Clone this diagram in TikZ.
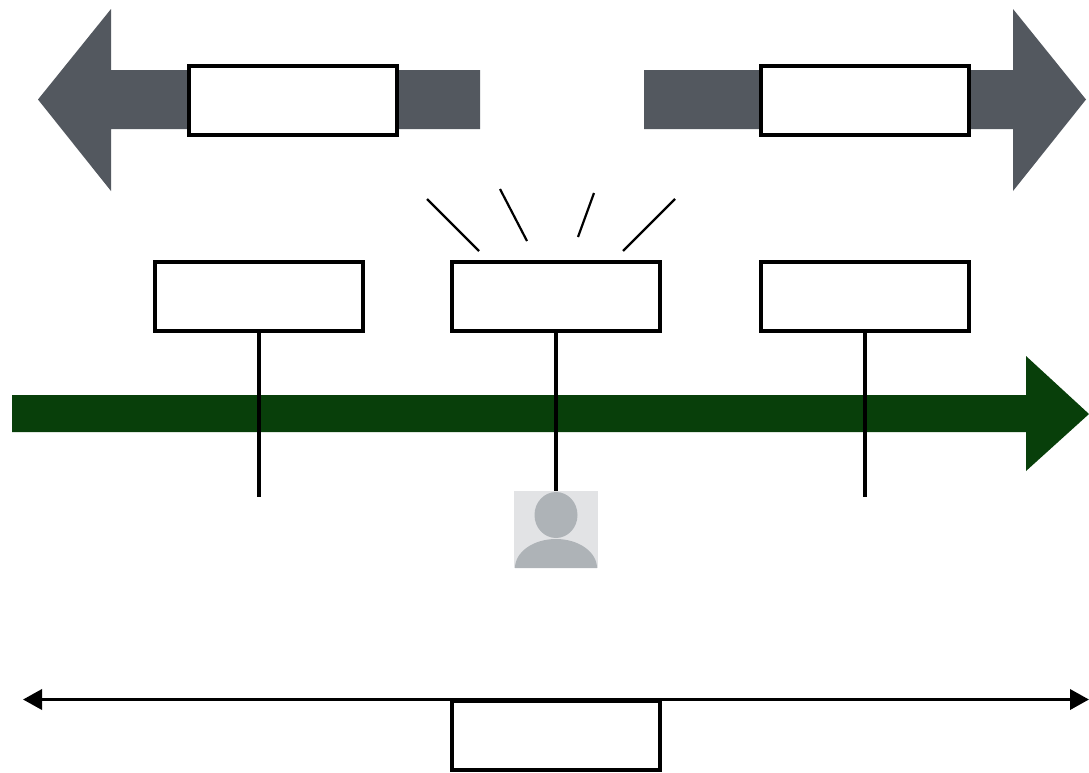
\documentclass[tikz,border=0pt]{standalone}
\usetikzlibrary{arrows.meta}
\definecolor{slatearrow}{HTML}{53585F}
\definecolor{greenarrow}{HTML}{083F0A}
\definecolor{personbg}{HTML}{E2E3E5}
\definecolor{personfg}{HTML}{AEB3B7}
\tikzset{
  labelbox/.style={draw=black,fill=white,line width=4pt,minimum width=208pt,minimum height=69pt,inner sep=0pt,outer sep=0pt},
  bigarrow/.style={fill=slatearrow},
  stem/.style={draw=black,line width=4pt},
  ray/.style={draw=black,line width=2.2pt},
  span/.style={draw=black,line width=3.6pt,{Triangle[length=19pt,width=20pt]}-{Triangle[length=19pt,width=20pt]}},
}
\begin{document}
\begin{tikzpicture}[x=1pt,y=-1pt]
\useasboundingbox (0,0) rectangle (1089,772);
% top arrows
\fill[bigarrow] (38,99.5) -- (111,9) -- (111,70) -- (480,70) -- (480,129) -- (111,129) -- (111,191) -- cycle;
\fill[bigarrow] (1086,99.5) -- (1013,9) -- (1013,70) -- (644,70) -- (644,129) -- (1013,129) -- (1013,191) -- cycle;
\node[labelbox] (topleft) at (293,100) {};
\node[labelbox] (topright) at (865,100) {};
% timeline
\fill[greenarrow] (12,395) -- (1026,395) -- (1026,356) -- (1089,414) -- (1026,471) -- (1026,432) -- (12,432) -- cycle;
% boxes
\node[labelbox] (left) at (259,296.5) {};
\node[labelbox] (mid) at (556,296.5) {};
\node[labelbox] (right) at (865,296.5) {};
% person
\node[fill=personbg,minimum width=84pt,minimum height=77pt,inner sep=0pt,outer sep=0pt] (person) at (556,529.5) {};
\fill[personfg] (556,515) ellipse [x radius=21.5,y radius=23];
\fill[personfg] (515,568) arc [start angle=180,end angle=360,x radius=41,y radius=29] -- cycle;
% stems
\coordinate (leftend) at (259,496.5);
\coordinate (rightend) at (865,496.5);
\draw[stem] (left.south) -- (leftend);
\draw[stem] (mid.south) -- (person.north);
\draw[stem] (right.south) -- (rightend);
% rays
\coordinate (r1a) at (427,199); \coordinate (r1b) at (479,251);
\coordinate (r2a) at (500,189); \coordinate (r2b) at (527,241);
\coordinate (r3a) at (594,193); \coordinate (r3b) at (578,237);
\coordinate (r4a) at (675,199); \coordinate (r4b) at (623,251);
\draw[ray] (r1a) -- (r1b);
\draw[ray] (r2a) -- (r2b);
\draw[ray] (r3a) -- (r3b);
\draw[ray] (r4a) -- (r4b);
% bottom
\coordinate (spanl) at (23,699.5);
\coordinate (spanr) at (1089,699.5);
\draw[span] (spanl) -- (spanr);
\node[labelbox] (bottom) at (556,735.5) {};
\end{tikzpicture}
\end{document}
